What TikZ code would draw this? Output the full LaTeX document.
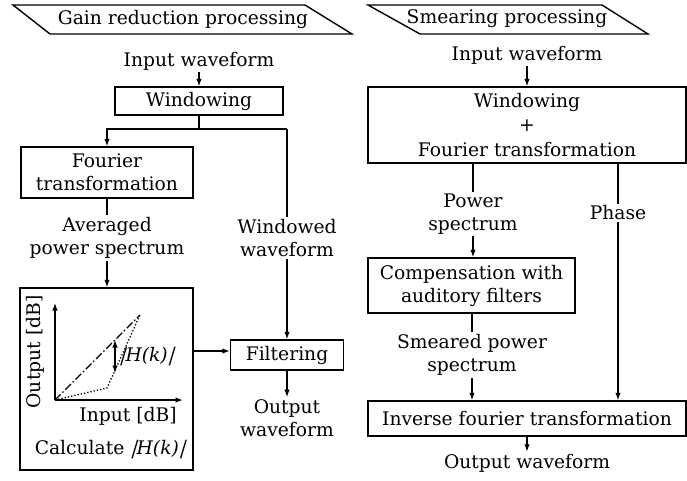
\documentclass[tikz,border=0pt]{standalone}
\usepackage{fontspec}
\setmainfont{DejaVu Serif}
\newfontfamily\slbarfont[FakeSlant=0.3]{DejaVu Serif}
\newcommand{\slbar}{{\slbarfont|}}
\usetikzlibrary{arrows.meta}
\begin{document}
\begin{tikzpicture}[x=1pt,y=-1pt,
  every node/.style={font=\fontsize{18.7}{23}\selectfont},
  boxn/.style={draw,line width=1.4pt,inner sep=0pt,align=center},
  txt/.style={align=center,inner sep=2pt},
  ln/.style={line width=1.4pt},
  arr/.style={line width=1.4pt,-{Latex[length=7.5pt,width=5.5pt]}},
  darr/.style={line width=1.4pt,{Latex[length=7.5pt,width=5.5pt]}-{Latex[length=7.5pt,width=5.5pt]}}
]
\useasboundingbox (0,0) rectangle (687,480);
% headers
\draw[ln] (13,5) -- (305,5) -- (352,34) -- (50,34) -- cycle;
\node (ghdr) at (183,19) {Gain reduction processing};
\draw[ln] (368,5) -- (602,5) -- (648,34) -- (420,34) -- cycle;
\node (shdr) at (507,19) {Smearing processing};
% ---------- left ----------
\node[txt] (in1) at (199,61) {Input waveform};
\node[boxn,minimum width=168pt,minimum height=28pt] (win1) at (199,101) {Windowing};
\coordinate (j1) at (199,129);
\coordinate (jr) at (287,129);
\node[boxn,minimum width=172pt,minimum height=51pt] (four1) at (107,172.5) {Fourier\\transformation};
\node[txt] (avg) at (107,238) {Averaged\\power spectrum};
\node[boxn,minimum width=173pt,minimum height=182pt] (gbox) at (106.5,379) {};
\node[txt] (wtxt) at (287,238) {Windowed\\waveform};
\node[boxn,minimum width=113pt,minimum height=30pt] (filt) at (287,355) {Filtering};
\node[txt] (out1) at (287,418) {Output\\waveform};
\draw[arr] (in1) -- (win1);
\draw[ln] (win1.south) -- (j1);
\draw[arr] (jr) -| (four1.north);
\draw[ln] (jr) -- (wtxt.north);
\draw[arr] (wtxt.south) -- (filt.north);
\draw[ln] (four1.south) -- (avg.north);
\draw[arr] (avg.south) -- (gbox.north -| avg.south);
\draw[arr] (gbox.east |- 0,351) -- (filt.west |- 0,351);
\draw[arr] (filt.south) -- (out1.north);
% graph
\coordinate (o) at (55,400);
\coordinate (ya) at (55,303);
\coordinate (xa) at (183,400);
\coordinate (p1) at (107,388);
\coordinate (p2) at (140,315);
\coordinate (h1) at (115,340);
\coordinate (h2) at (115,373);
\draw[arr] (o) -- (ya);
\draw[arr] (o) -- (xa);
\draw[line width=1.3pt,dash pattern=on 8pt off 2.5pt on 1.5pt off 2.5pt] (o) -- (p2);
\draw[line width=1.3pt,dotted] (o) -- (p1) -- (p2);
\draw[darr] (h1) -- (h2);
\node[anchor=west,inner sep=1pt] (hk) at (118,357) {\slbar\textit{H(k)}\slbar};
\node[rotate=90] (oy) at (35,352) {Output [dB]};
\node (ix) at (128,416) {Input [dB]};
\node (calc) at (110,450) {Calculate \slbar\textit{H(k)}\slbar};
% ---------- right ----------
\node[txt] (in2) at (527,55) {Input waveform};
\node[boxn,minimum width=318pt,minimum height=76pt,font=\fontsize{18.7}{24.5}\selectfont] (big) at (527,125) {Windowing\\+\\Fourier transformation};
\node[txt] (ps) at (473,214) {Power\\spectrum};
\node[txt] (ph) at (618,213) {Phase};
\node[boxn,minimum width=207pt,minimum height=55pt] (comp) at (471.5,285.5) {Compensation with\\auditory filters};
\node[txt] (sm) at (472,355) {Smeared power\\spectrum};
\node[boxn,minimum width=318pt,minimum height=35pt] (inv) at (527,418.5) {Inverse fourier transformation};
\node[txt] (out2) at (527,463) {Output waveform};
\draw[arr] (in2) -- (big);
\draw[ln] (big.south -| ps.north) -- (ps.north);
\draw[arr] (ps.south) -- (comp.north -| ps.south);
\draw[ln] (comp.south -| sm.north) -- (sm.north);
\draw[arr] (sm.south) -- (inv.north -| sm.south);
\draw[ln] (big.south -| ph.north) -- (ph.north);
\draw[arr] (ph.south) -- (inv.north -| ph.south);
\draw[arr] (inv.south) -- (out2.north);
\end{tikzpicture}
\end{document}
